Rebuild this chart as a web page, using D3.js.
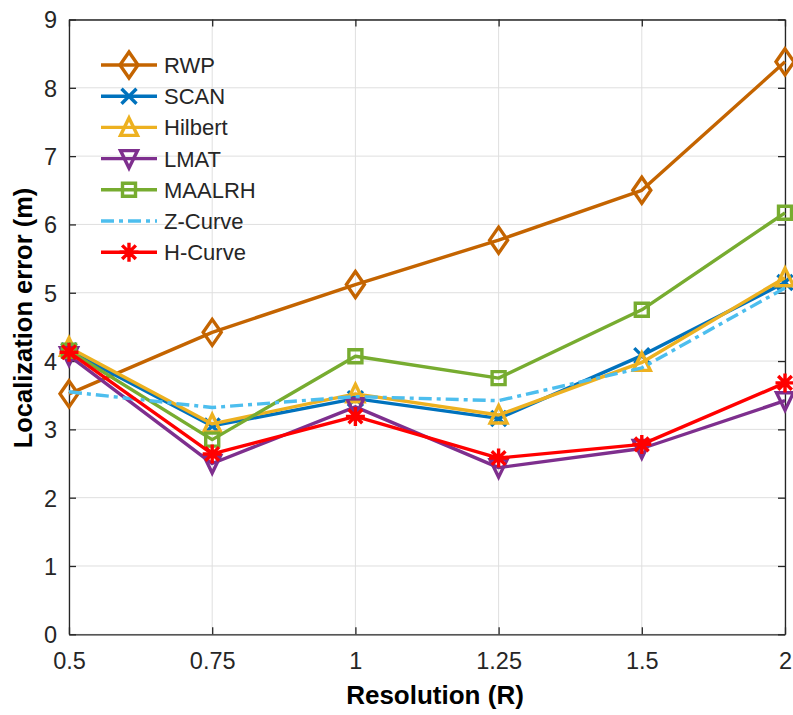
<!DOCTYPE html>
<html>
<head>
<meta charset="utf-8">
<script src="https://cdn.jsdelivr.net/npm/d3@7"></script>
<style>
  html, body { margin: 0; padding: 0; background: #fff; }
  svg { display: block; font-family: "Liberation Sans", Arial, Helvetica, sans-serif; }
</style>
</head>
<body>
<svg id="chart" width="793" height="715"></svg>
<script>
// Resolution values (categorical x axis)
const resolutions = ["0.5", "0.75", "1", "1.25", "1.5", "2"];
const yTicks = [0, 1, 2, 3, 4, 5, 6, 7, 8, 9];

// Localization error (m) per method
const rwp    = [3.52, 4.42, 5.12, 5.77, 6.50, 8.38];
const scan   = [4.15, 3.05, 3.45, 3.16, 4.08, 5.15];
const hilbert= [4.20, 3.08, 3.52, 3.21, 3.98, 5.22];
const lmat   = [4.08, 2.50, 3.33, 2.44, 2.72, 3.42];
const maalrh = [4.15, 2.85, 4.07, 3.75, 4.75, 6.17];
const zcurve = [3.55, 3.32, 3.48, 3.42, 3.90, 5.07];
const hcurve = [4.13, 2.64, 3.19, 2.58, 2.78, 3.68];

const seriesNames = ["RWP", "SCAN", "Hilbert", "LMAT", "MAALRH", "Z-Curve", "H-Curve"];
const seriesValues = [rwp, scan, hilbert, lmat, maalrh, zcurve, hcurve];
const seriesColors = ["#C46400", "#0072BD", "#EDB120", "#7E2F8E", "#77AC30", "#4DBEEE", "#FF0000"];
const seriesMarkers = ["diamond", "cross", "triangleUp", "triangleDown", "square", "none", "star"];
const seriesDash = [null, null, null, null, null, "13,5,4,5", null];

const svg = d3.select("#chart");
const plotL = 69, plotR = 785, plotT = 19.5, plotB = 634.3;

const x = d3.scalePoint().domain(resolutions).range([plotL, plotR]).padding(0);
const y = d3.scaleLinear().domain([0, 9]).range([plotB, plotT]);

const axisColor = "#262626";
const gridColor = "#DFDFDF";
const fontFam = "'Liberation Sans', Arial, Helvetica, sans-serif";

// grid
const grid = svg.append("g");
grid.selectAll("line.gx").data(resolutions).join("line")
  .attr("x1", d => x(d)).attr("x2", d => x(d))
  .attr("y1", plotT).attr("y2", plotB)
  .attr("stroke", gridColor).attr("stroke-width", 1);
grid.selectAll("line.gy").data(yTicks).join("line")
  .attr("x1", plotL).attr("x2", plotR)
  .attr("y1", d => y(d)).attr("y2", d => y(d))
  .attr("stroke", gridColor).attr("stroke-width", 1);

// axes (ticks pointing inward, box on)
const tickLen = 7;
const axB = svg.append("g").attr("transform", `translate(0,${plotB})`)
  .call(d3.axisBottom(x).tickSizeInner(-tickLen).tickSizeOuter(0).tickPadding(18));
const axT = svg.append("g").attr("transform", `translate(0,${plotT})`)
  .call(d3.axisTop(x).tickSizeInner(-tickLen).tickSizeOuter(0).tickFormat(""));
const axL = svg.append("g").attr("transform", `translate(${plotL},0)`)
  .call(d3.axisLeft(y).tickValues(yTicks).tickSizeInner(-tickLen).tickSizeOuter(0).tickPadding(12));
const axR = svg.append("g").attr("transform", `translate(${plotR},0)`)
  .call(d3.axisRight(y).tickValues(yTicks).tickSizeInner(-tickLen).tickSizeOuter(0).tickFormat(""));

[axB, axT, axL, axR].forEach(g => {
  g.select(".domain").attr("stroke", axisColor).attr("stroke-width", 1.3);
  g.selectAll(".tick line").attr("stroke", axisColor).attr("stroke-width", 1.3);
  g.selectAll(".tick text").attr("fill", axisColor).attr("font-size", 23.5)
    .attr("font-family", fontFam);
});
axL.selectAll(".tick text").attr("dy", "0.36em");

// marker path generators, centered at 0,0
function markerPath(type) {
  const p = d3.path();
  switch (type) {
    case "diamond":
      p.moveTo(0, -13); p.lineTo(9, 0); p.lineTo(0, 13); p.lineTo(-9, 0); p.closePath(); break;
    case "square":
      p.moveTo(-6.5, -6.5); p.lineTo(6.5, -6.5); p.lineTo(6.5, 6.5); p.lineTo(-6.5, 6.5); p.closePath(); break;
    case "triangleUp":
      p.moveTo(0, -9.5); p.lineTo(8.5, 8); p.lineTo(-8.5, 8); p.closePath(); break;
    case "triangleDown":
      p.moveTo(0, 9.5); p.lineTo(8.5, -8); p.lineTo(-8.5, -8); p.closePath(); break;
    case "cross":
      p.moveTo(-7.5, -7.5); p.lineTo(7.5, 7.5); p.moveTo(7.5, -7.5); p.lineTo(-7.5, 7.5); break;
    case "star": {
      const r = 9.5;
      p.moveTo(-r, 0); p.lineTo(r, 0);
      p.moveTo(0, -r); p.lineTo(0, r);
      const k = r * 0.72;
      p.moveTo(-k, -k); p.lineTo(k, k);
      p.moveTo(k, -k); p.lineTo(-k, k);
      break;
    }
    default: break;
  }
  return p.toString();
}

const line = d3.line().x((d, i) => x(resolutions[i])).y(d => y(d));

const plot = svg.append("g");
seriesValues.forEach((vals, si) => {
  const g = plot.append("g");
  g.append("path").datum(vals)
    .attr("d", line)
    .attr("fill", "none")
    .attr("stroke", seriesColors[si])
    .attr("stroke-width", 3.4)
    .attr("stroke-linejoin", "round")
    .attr("stroke-dasharray", seriesDash[si]);
  if (seriesMarkers[si] !== "none") {
    g.selectAll("path.m").data(vals).join("path")
      .attr("class", "m")
      .attr("transform", (d, i) => `translate(${x(resolutions[i])},${y(d)})`)
      .attr("d", markerPath(seriesMarkers[si]))
      .attr("fill", "none")
      .attr("stroke", seriesColors[si])
      .attr("stroke-width", 3.4)
      .attr("stroke-linejoin", "miter");
  }
});

// legend
const legend = svg.append("g");
const legX0 = 101, legX1 = 157, legY0 = 65, legStep = 31.2;
seriesNames.forEach((name, si) => {
  const yy = legY0 + si * legStep;
  const g = legend.append("g");
  g.append("line")
    .attr("x1", legX0).attr("x2", legX1).attr("y1", yy).attr("y2", yy)
    .attr("stroke", seriesColors[si]).attr("stroke-width", 3.4)
    .attr("stroke-dasharray", seriesDash[si]);
  if (seriesMarkers[si] !== "none") {
    g.append("path")
      .attr("transform", `translate(${(legX0 + legX1) / 2},${yy})`)
      .attr("d", markerPath(seriesMarkers[si]))
      .attr("fill", "none").attr("stroke", seriesColors[si]).attr("stroke-width", 3.4);
  }
  g.append("text")
    .attr("x", 164).attr("y", yy).attr("dy", "0.36em")
    .attr("font-size", 22).attr("fill", axisColor)
    .text(name);
});

// axis titles
svg.append("text")
  .attr("x", 435).attr("y", 704)
  .attr("text-anchor", "middle").attr("font-size", 26).attr("font-weight", "bold")
  .attr("fill", "#000").text("Resolution (R)");
svg.append("text")
  .attr("transform", `translate(32,318) rotate(-90)`)
  .attr("text-anchor", "middle").attr("font-size", 25.5).attr("font-weight", "bold")
  .attr("fill", "#000").text("Localization error (m)");
</script>
</body>
</html>
